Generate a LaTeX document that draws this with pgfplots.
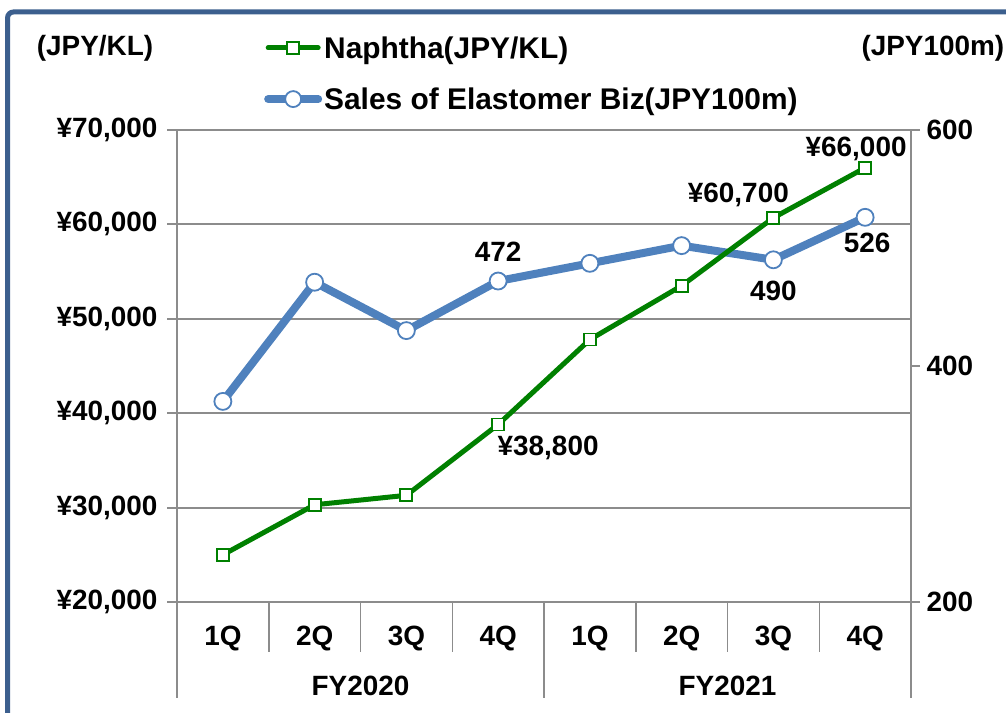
\documentclass[border=0pt]{standalone}
\usepackage{pgfplots}
\pgfplotsset{compat=1.18}
\usepackage{fontspec}
\setmainfont{Liberation Sans}
\definecolor{naph}{HTML}{008000}
\definecolor{sales}{HTML}{4F81BD}
\definecolor{gridc}{HTML}{8C8C8C}
\definecolor{framec}{HTML}{3C5F8E}
\newcommand{\tickfont}{\fontsize{28}{32}\selectfont\bfseries}
\newcommand{\legfont}{\fontsize{30}{34}\selectfont\bfseries}

\pgfplotstableread{
x naphtha
0 25000
1 30300
2 31300
3 38800
4 47800
5 53500
6 60700
7 66000
}\naphtha
\pgfplotstableread{
x sales
0 370
1 471
2 430
3 472
4 487
5 502
6 490
7 526
}\sales

\pgfplotsset{
  common/.style={
    at={(177bp,111bp)}, anchor=south west,
    scale only axis, width=734bp, height=472bp,
    xmin=-0.5, xmax=7.5, clip=false,
  }
}

\begin{document}
\begin{tikzpicture}
% frame
\draw[framec, line width=5bp, rounded corners=6bp] (7.5bp,-20bp) -- (7.5bp,701bp) -- (1030bp,701bp);

% Axis A: left scale, grid and labels
\begin{axis}[common,
  ymin=20000, ymax=70000,
  scaled y ticks=false,
  xtick={0,...,7}, xticklabels={1Q,2Q,3Q,4Q,1Q,2Q,3Q,4Q},
  major x tick style={draw=none},
  ytick={20000,30000,40000,50000,60000,70000},
  yticklabels={{¥20,000},{¥30,000},{¥40,000},{¥50,000},{¥60,000},{¥70,000}},
  ytick pos=left, tick align=outside, major tick length=10bp,
  tick label style={font=\tickfont},
  xticklabel style={yshift=-11bp},
  yticklabel style={xshift=-6bp},
  ymajorgrids, grid style={gridc, line width=2bp},
  axis line style={gridc, line width=2bp},
  tick style={gridc, line width=2bp},
]
\pgfplotsinvokeforeach{0.5,1.5,2.5,4.5,5.5,6.5}{
  \draw[gridc, line width=1.5bp] (axis cs:#1,20000) -- ++(0pt,-50bp);
}
\pgfplotsinvokeforeach{-0.5,3.5,7.5}{
  \draw[gridc, line width=1.5bp] (axis cs:#1,20000) -- ++(0pt,-96bp);
}
\node[font=\tickfont] at (axis cs:1.5,20000) [yshift=-84bp] {FY2020};
\node[font=\tickfont] at (axis cs:5.5,20000) [yshift=-84bp] {FY2021};
\node[font=\tickfont] at (rel axis cs:0,1) [xshift=-82bp, yshift=82bp] {(JPY/KL)};
\node[font=\tickfont] at (rel axis cs:1,1) [xshift=-53bp, yshift=82bp, anchor=west] {(JPY100m)};
\end{axis}

% Axis B: right scale, sales
\begin{axis}[common,
  ymin=200, ymax=600,
  axis x line=none,
  axis y line*=right,
  ytick={200,400,600},
  yticklabels={200,400,600},
  tick align=outside, major tick length=9bp,
  tick label style={font=\tickfont},
  yticklabel style={xshift=3bp},
  axis line style={gridc, line width=2bp},
  tick style={gridc, line width=2bp},
]
\addplot[sales, line width=8bp, mark=*, mark size=8.5bp,
  mark options={fill=white, draw=sales, line width=1.8bp}]
  table[x=x, y=sales] {\sales};
\node[font=\tickfont] at (axis cs:3,472) [yshift=29bp] {472};
\node[font=\tickfont] at (axis cs:6,490) [yshift=-31bp] {490};
\node[font=\tickfont] at (axis cs:7,526) [yshift=-26bp, xshift=2bp] {526};
\end{axis}

% Axis C: left scale, naphtha, legend
\begin{axis}[common,
  ymin=20000, ymax=70000,
  hide axis,
  legend style={at={(rel axis cs:0.1185,1.203)}, anchor=north west,
    draw=none, fill=none, font=\legfont,
    row sep=24bp, inner sep=0pt,
    /tikz/every even column/.append style={column sep=0bp}},
  legend cell align=left,
  legend image code/.code={
    \draw[mark repeat=2, mark phase=2, line cap=round, #1]
      plot coordinates {(0bp,0bp) (25bp,0bp) (50bp,0bp)};
  },
]
\addplot[naph, line width=5bp, mark=square*, mark size=6bp,
  mark options={fill=white, draw=naph, line width=1.8bp}]
  table[x=x, y=naphtha] {\naphtha};
\addlegendentry{Naphtha(JPY/KL)}
\addlegendimage{sales, line width=8bp, mark=*, mark size=8bp,
  mark options={fill=white, draw=sales, line width=1.8bp}}
\addlegendentry{Sales of Elastomer Biz(JPY100m)}
\node[font=\tickfont] at (axis cs:3,38800) [xshift=50bp, yshift=-23bp] {¥38,800};
\node[font=\tickfont] at (axis cs:6,60700) [xshift=-35bp, yshift=23bp] {¥60,700};
\node[font=\tickfont] at (axis cs:7,66000) [xshift=-9bp, yshift=19bp] {¥66,000};
\end{axis}

\pgfresetboundingbox
\useasboundingbox (0bp,0bp) rectangle (1006bp,713bp);
\end{tikzpicture}
\end{document}
